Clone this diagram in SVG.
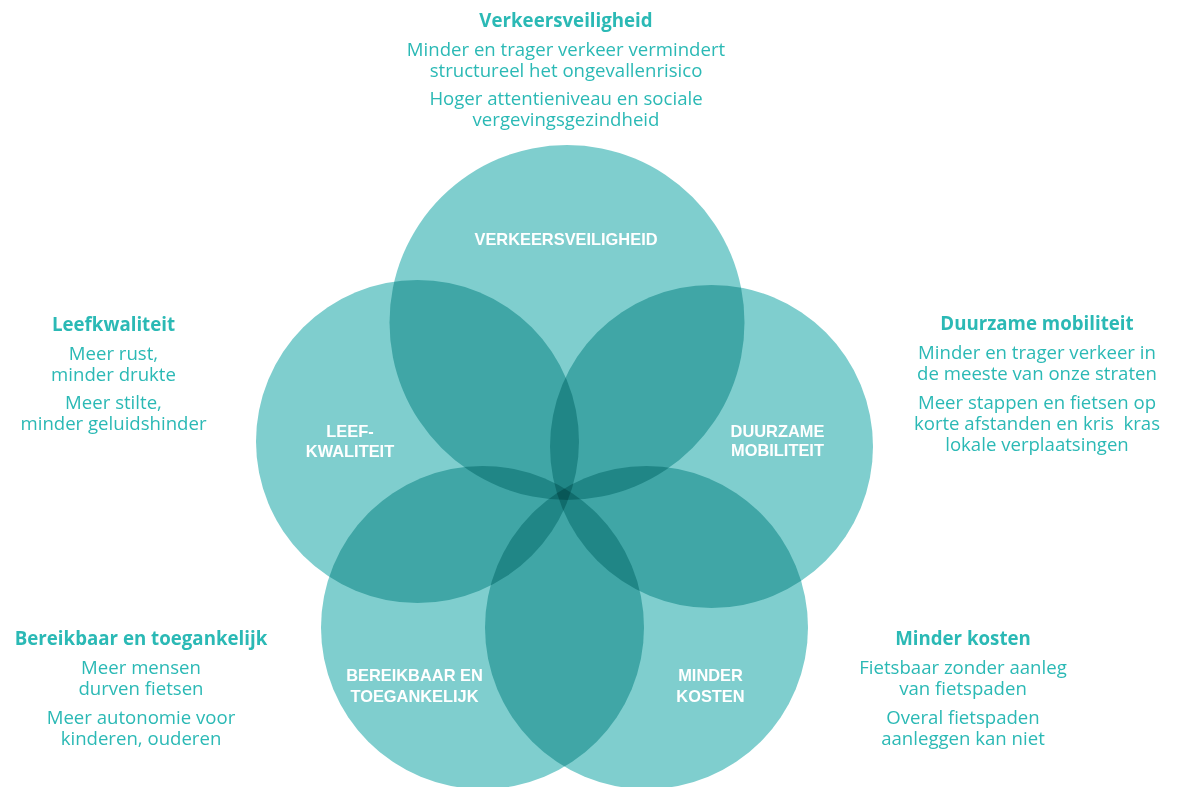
<svg xmlns="http://www.w3.org/2000/svg" width="1177" height="787" viewBox="0 0 1177 787">
<style>
.c{fill:#7FCECE;mix-blend-mode:multiply}
.lbl{font-family:"Liberation Sans",Arial,sans-serif;font-weight:bold;font-size:16.4px;fill:#FFFFFF;text-anchor:middle}
.t{font-family:"Open Sans","Liberation Sans",Arial,sans-serif;font-weight:bold;font-size:18.7px;fill:#2BB9B5;text-anchor:middle}
.b{font-family:"Open Sans","Liberation Sans",Arial,sans-serif;font-size:18.6px;fill:#2BB9B5;text-anchor:middle}
</style>
<rect x="0" y="0" width="1177" height="787" fill="#FFFFFF"/>
<g id="node-verkeersveiligheid">
<circle class="c" cx="567" cy="322.5" r="177.5"/>
<text class="lbl" x="566" y="245">VERKEERSVEILIGHEID</text>
</g>
<g id="node-leefkwaliteit">
<circle class="c" cx="417.5" cy="441.5" r="161.5"/>
<text class="lbl" x="350" y="437">LEEF-</text>
<text class="lbl" x="350" y="457">KWALITEIT</text>
</g>
<g id="node-duurzame-mobiliteit">
<circle class="c" cx="711.5" cy="446.5" r="161.5"/>
<text class="lbl" x="777.5" y="437">DUURZAME</text>
<text class="lbl" x="777.5" y="456">MOBILITEIT</text>
</g>
<g id="node-bereikbaar">
<circle class="c" cx="482.5" cy="627.5" r="161.5"/>
<text class="lbl" x="414.5" y="681">BEREIKBAAR EN</text>
<text class="lbl" x="414.5" y="702">TOEGANKELIJK</text>
</g>
<g id="node-minder-kosten">
<circle class="c" cx="646.5" cy="627.5" r="161.5"/>
<text class="lbl" x="710.5" y="681">MINDER</text>
<text class="lbl" x="710.5" y="702">KOSTEN</text>
</g>
<g id="connectors"></g>
<g id="text-verkeersveiligheid">
<text class="t" x="566" y="27">Verkeersveiligheid</text>
<text class="b" x="566" y="56">Minder en trager verkeer vermindert</text>
<text class="b" x="566" y="77">structureel het ongevallenrisico</text>
<text class="b" x="566" y="105">Hoger attentieniveau en sociale</text>
<text class="b" x="566" y="126">vergevingsgezindheid</text>
</g>
<g id="text-leefkwaliteit">
<text class="t" x="113.5" y="331">Leefkwaliteit</text>
<text class="b" x="113.5" y="360">Meer rust,</text>
<text class="b" x="113.5" y="381">minder drukte</text>
<text class="b" x="113.5" y="409">Meer stilte,</text>
<text class="b" x="113.5" y="430">minder geluidshinder</text>
</g>
<g id="text-duurzame-mobiliteit">
<text class="t" x="1037" y="330">Duurzame mobiliteit</text>
<text class="b" x="1037" y="359">Minder en trager verkeer in</text>
<text class="b" x="1037" y="380">de meeste van onze straten</text>
<text class="b" x="1037" y="409">Meer stappen en fietsen op</text>
<text class="b" x="1037" y="430" xml:space="preserve">korte afstanden en kris  kras</text>
<text class="b" x="1037" y="451">lokale verplaatsingen</text>
</g>
<g id="text-bereikbaar">
<text class="t" x="141" y="645">Bereikbaar en toegankelijk</text>
<text class="b" x="141" y="674">Meer mensen</text>
<text class="b" x="141" y="695">durven fietsen</text>
<text class="b" x="141" y="724">Meer autonomie voor</text>
<text class="b" x="141" y="745">kinderen, ouderen</text>
</g>
<g id="text-minder-kosten">
<text class="t" x="963" y="645">Minder kosten</text>
<text class="b" x="963" y="674">Fietsbaar zonder aanleg</text>
<text class="b" x="963" y="695">van fietspaden</text>
<text class="b" x="963" y="724">Overal fietspaden</text>
<text class="b" x="963" y="745">aanleggen kan niet</text>
</g>
</svg>
